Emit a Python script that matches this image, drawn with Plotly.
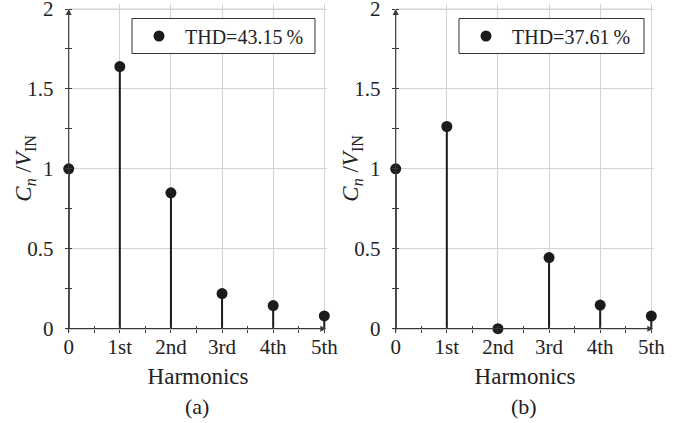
import plotly.graph_objects as go

harmonics = [0, 1, 2, 3, 4, 5]
tick_labels = ["0", "1st", "2nd", "3rd", "4th", "5th"]
y_ticks = [0, 0.5, 1, 1.5, 2]
y_tick_labels = ["0", "0.5", "1", "1.5", "2"]
values_a = [1.0, 1.64, 0.85, 0.22, 0.145, 0.08]
values_b = [1.0, 1.265, 0.0, 0.445, 0.148, 0.079]
legend_a = "THD=43.15\u2009%"
legend_b = "THD=37.61\u2009%"
panel_labels = ["(a)", "(b)"]
y_title = "<i>C<sub>n</sub></i> /<i>V</i><sub>IN</sub>"

FONT = "Liberation Serif"
INK = "#1c1a1b"
AXIS = "#3a3a3a"
GRID = "#d4d4d4"
TXT = "#222222"

W, H = 684, 423
X_MAX, Y_MAX = 5.06, 2.03
px_x = (324.3 - 68.7) / 5
px_y = (328.7 - 9.0) / 2
y_dom = [(H - 328.7) / H, (H - (328.7 - Y_MAX * px_y)) / H]
x_left = [68.7, 395.7]
x_doms = [[xl / W, (xl + X_MAX * px_x) / W] for xl in x_left]
legend_boxes = [(132, 18.5, 315, 53.5), (459, 18.5, 644, 53.5)]

fig = go.Figure()

panels = [(values_a, legend_a), (values_b, legend_b)]
for i, (vals, leg) in enumerate(panels):
    xa = "x" if i == 0 else "x2"
    ya = "y" if i == 0 else "y2"
    sx, sy = [], []
    for h, v in zip(harmonics, vals):
        sx += [h, h, None]
        sy += [0, v, None]
    fig.add_trace(go.Scatter(x=sx, y=sy, mode="lines", xaxis=xa, yaxis=ya,
                             line=dict(color=INK, width=2), showlegend=False,
                             cliponaxis=False, hoverinfo="skip"))
    fig.add_trace(go.Scatter(x=harmonics, y=vals, mode="markers", xaxis=xa, yaxis=ya,
                             marker=dict(color=INK, size=11), name=leg,
                             legend="legend" if i == 0 else "legend2",
                             cliponaxis=False))

common_x = dict(range=[0, X_MAX], tickmode="array", tickvals=harmonics, ticktext=tick_labels,
                showgrid=True, gridcolor=GRID, gridwidth=1, zeroline=False, showline=False,
                ticks="outside", ticklen=3, tickcolor=AXIS, automargin=False,
                ticklabeloverflow="allow",
                minor=dict(tickvals=[h + 0.5 for h in harmonics[:-1]], ticks="outside", ticklen=3,
                           tickcolor=AXIS, showgrid=False),
                tickfont=dict(family=FONT, size=21, color=TXT), ticklabelstandoff=-4,
                title=dict(text="Harmonics", font=dict(family=FONT, size=23, color=TXT), standoff=9),
                fixedrange=True)
common_y = dict(range=[0, Y_MAX], tickmode="array", tickvals=y_ticks, ticktext=y_tick_labels,
                showgrid=True, gridcolor=GRID, gridwidth=1, zeroline=False, showline=False,
                ticks="outside", ticklen=3, tickcolor=AXIS, automargin=False,
                ticklabeloverflow="allow",
                minor=dict(tickvals=[t + 0.25 for t in y_ticks[:-1]], ticks="outside", ticklen=3,
                           tickcolor=AXIS, showgrid=False),
                tickfont=dict(family=FONT, size=21, color=TXT), ticklabelstandoff=7,
                fixedrange=True)

def overlay_x(over, anchor):
    return dict(overlaying=over, anchor=anchor, range=[0, X_MAX], showgrid=False, zeroline=False,
                showticklabels=False, side="bottom", tickvals=harmonics, ticks="inside", ticklen=3,
                tickcolor=AXIS, automargin=False,
                minor=dict(tickvals=[h + 0.5 for h in harmonics[:-1]], ticks="inside", ticklen=3,
                           tickcolor=AXIS))

def overlay_y(over, anchor):
    return dict(overlaying=over, anchor=anchor, range=[0, Y_MAX], showgrid=False, zeroline=False,
                showticklabels=False, side="left", tickvals=y_ticks, ticks="inside", ticklen=3,
                tickcolor=AXIS, automargin=False,
                minor=dict(tickvals=[t + 0.25 for t in y_ticks[:-1]], ticks="inside", ticklen=3,
                           tickcolor=AXIS))

legend_common = dict(xanchor="left", yanchor="middle", bgcolor="rgba(0,0,0,0)",
                     borderwidth=0, font=dict(family=FONT, size=20, color=TXT), itemwidth=42)

fig.update_layout(
    xaxis=dict(domain=x_doms[0], anchor="y", **common_x),
    yaxis=dict(domain=y_dom, anchor="x", **common_y),
    xaxis2=dict(domain=x_doms[1], anchor="y2", **common_x),
    yaxis2=dict(domain=y_dom, anchor="x2", **common_y),
    xaxis3=overlay_x("x", "y"),
    xaxis4=overlay_x("x2", "y2"),
    yaxis3=overlay_y("y", "x"),
    yaxis4=overlay_y("y2", "x2"),
    width=W, height=H,
    margin=dict(l=0, r=0, t=0, b=0, autoexpand=False),
    paper_bgcolor="white", plot_bgcolor="white",
    legend=dict(x=(legend_boxes[0][0] + 1) / W, y=1 - 36 / H, **legend_common),
    legend2=dict(x=(legend_boxes[1][0] + 1) / W, y=1 - 36 / H, **legend_common),
)

for xa, ya in [("x3", "y"), ("x4", "y2"), ("x", "y3"), ("x2", "y4")]:
    fig.add_trace(go.Scatter(x=[None], y=[None], xaxis=xa, yaxis=ya, showlegend=False,
                             hoverinfo="skip"))

shapes = []
for i in range(2):
    xr = "x" if i == 0 else "x2"
    yr = "y" if i == 0 else "y2"
    # top grid line (plotly omits the grid line at this edge tick)
    shapes.append(dict(type="line", xref=xr, yref=yr, x0=harmonics[0], x1=harmonics[-1],
                       y0=y_ticks[-1], y1=y_ticks[-1], line=dict(color=GRID, width=1),
                       layer="below"))
for (x0, y0, x1, y1) in legend_boxes:
    shapes.append(dict(type="rect", xref="paper", yref="paper", x0=x0 / W, x1=x1 / W,
                       y0=1 - y0 / H, y1=1 - y1 / H, line=dict(color="#333", width=1),
                       fillcolor="white", layer="above"))

annotations = []
for i in range(2):
    xr = "x" if i == 0 else "x2"
    yr = "y" if i == 0 else "y2"
    annotations.append(dict(x=5.04, y=0, ax=-0.08, ay=0, xref=xr, yref=yr, axref=xr, ayref=yr,
                            text="", showarrow=True, arrowhead=2, arrowsize=1, arrowwidth=1.2,
                            arrowcolor=AXIS))
    annotations.append(dict(x=0, y=2.0, ax=0, ay=-0.03, xref=xr, yref=yr, axref=xr, ayref=yr,
                            text="", showarrow=True, arrowhead=2, arrowsize=1, arrowwidth=1.2,
                            arrowcolor=AXIS))
    annotations.append(dict(x=(x_left[i] + 2.5 * px_x) / W, y=1 - 406 / H,
                            xref="paper", yref="paper", yanchor="middle", xanchor="center",
                            text=panel_labels[i], showarrow=False,
                            font=dict(family=FONT, size=22, color=TXT)))
    annotations.append(dict(x=(x_left[i] - 44) / W, y=1 - 168 / H,
                            xref="paper", yref="paper", yanchor="middle", xanchor="center",
                            text=y_title, textangle=-90, showarrow=False,
                            font=dict(family=FONT, size=23, color=TXT)))
fig.update_layout(annotations=annotations, shapes=shapes)

fig.write_html("out.html")
